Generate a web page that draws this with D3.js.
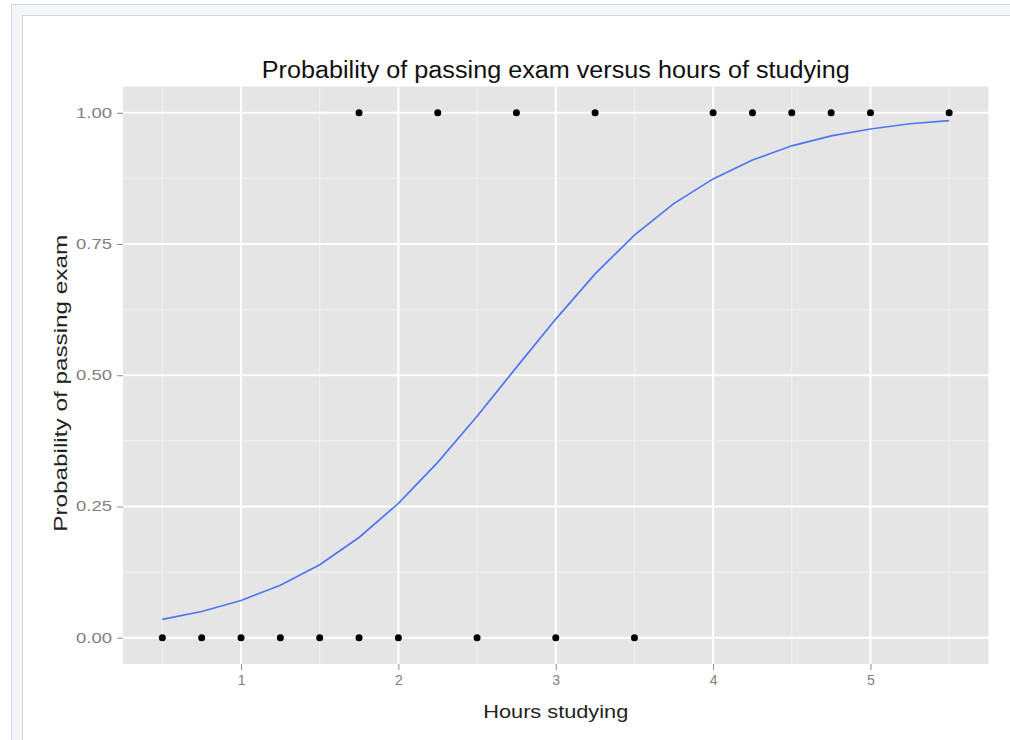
<!DOCTYPE html>
<html>
<head>
<meta charset="utf-8">
<script src="https://cdn.jsdelivr.net/npm/d3@7"></script>
<style>
  body { margin: 0; background: #fff; }
  svg { display: block; }
</style>
</head>
<body>
<script>
// exam data
const hours = [0.5, 0.75, 1, 1.25, 1.5, 1.75, 1.75, 2, 2.25, 2.5, 2.75, 3, 3.25, 3.5, 4, 4.25, 4.5, 4.75, 5, 5.5]
const passed = [0, 0, 0, 0, 0, 0, 1, 0, 1, 0, 1, 0, 1, 0, 1, 1, 1, 1, 1, 1]

// fitted curve
const curveX = [0.5, 0.75, 1, 1.25, 1.5, 1.75, 2, 2.25, 2.5, 2.75, 3, 3.25, 3.5, 3.75, 4, 4.25, 4.5, 4.75, 5, 5.25, 5.5]
const curveP = [0.035, 0.05, 0.071, 0.1, 0.139, 0.191, 0.256, 0.334, 0.422, 0.515, 0.607, 0.693, 0.767, 0.827, 0.874, 0.91, 0.937, 0.956, 0.969, 0.979, 0.985]

const xTicks = [1, 2, 3, 4, 5]
const xMinor = [0.5, 1.5, 2.5, 3.5, 4.5, 5.5]
const yTicks = [0, 0.25, 0.5, 0.75, 1]
const yMinor = [0.125, 0.375, 0.625, 0.875]
const yTickLabels = ["0.00", "0.25", "0.50", "0.75", "1.00"]

const width = 1010
const height = 740
const panel = {left: 123, right: 988.5, top: 86.5, bottom: 664}

const x = d3.scaleLinear().domain([0.25, 5.75]).range([panel.left, panel.right])
const y = d3.scaleLinear().domain([-0.05, 1.05]).range([panel.bottom, panel.top])

const svg = d3.select("body").append("svg").attr("width", width).attr("height", height)
  .style("font-family", "'Liberation Sans', Arial, sans-serif")

// screenshot frame
const frame = svg.append("g")
frame.append("rect").attr("x", 11).attr("y", 5).attr("width", width).attr("height", 11).attr("fill", "#f5f6f9")
frame.append("rect").attr("x", 11).attr("y", 5).attr("width", 11).attr("height", height).attr("fill", "#f5f6f9")
frame.append("path").attr("d", `M11.5,${height}V4.5H${width}`).attr("fill", "none").attr("stroke", "#d2d5dc")
frame.append("path").attr("d", `M22.5,${height}V15.5H${width}`).attr("fill", "none").attr("stroke", "#d2d5dc")

// panel
svg.append("rect")
  .attr("x", panel.left).attr("y", panel.top)
  .attr("width", panel.right - panel.left).attr("height", panel.bottom - panel.top)
  .attr("fill", "#e5e5e5")

const grid = svg.append("g")
grid.selectAll(".vminor").data(xMinor).join("line")
  .attr("x1", (d) => x(d)).attr("x2", (d) => x(d)).attr("y1", panel.top).attr("y2", panel.bottom)
  .attr("stroke", "#f2f2f2").attr("stroke-width", 1)
grid.selectAll(".hminor").data(yMinor).join("line")
  .attr("y1", (d) => y(d)).attr("y2", (d) => y(d)).attr("x1", panel.left).attr("x2", panel.right)
  .attr("stroke", "#f2f2f2").attr("stroke-width", 1)
grid.selectAll(".vmajor").data(xTicks).join("line")
  .attr("x1", (d) => x(d)).attr("x2", (d) => x(d)).attr("y1", panel.top).attr("y2", panel.bottom)
  .attr("stroke", "#fff").attr("stroke-width", 2)
grid.selectAll(".hmajor").data(yTicks).join("line")
  .attr("y1", (d) => y(d)).attr("y2", (d) => y(d)).attr("x1", panel.left).attr("x2", panel.right)
  .attr("stroke", "#fff").attr("stroke-width", 2)

// axes
const xAxis = svg.append("g").attr("transform", `translate(0,${panel.bottom})`)
  .call(d3.axisBottom(x).tickValues(xTicks).tickFormat(d3.format("d")).tickSize(6).tickPadding(5))
const yAxis = svg.append("g").attr("transform", `translate(${panel.left},0)`)
  .call(d3.axisLeft(y).tickValues(yTicks).tickFormat((d, i) => yTickLabels[i]).tickSize(6).tickPadding(5))

for (const ax of [xAxis, yAxis]) {
  ax.select(".domain").remove()
  ax.selectAll(".tick line").attr("stroke", "#8c8c8c")
  ax.selectAll(".tick text").attr("fill", "#808080").style("font-size", "14px")
    .style("font-family", "'Liberation Sans', Arial, sans-serif")
}
yAxis.selectAll(".tick text").attr("textLength", 36).attr("lengthAdjust", "spacingAndGlyphs")

// fitted line
svg.append("path")
  .datum(curveX.map((d, i) => [d, curveP[i]]))
  .attr("fill", "none")
  .attr("stroke", "#4f76f2")
  .attr("stroke-width", 1.7)
  .attr("d", d3.line().x((d) => x(d[0])).y((d) => y(d[1])))

// points
svg.append("g").selectAll("circle").data(hours).join("circle")
  .attr("cx", (d) => x(d))
  .attr("cy", (d, i) => y(passed[i]))
  .attr("r", 3.5)
  .attr("fill", "#000")

// titles
svg.append("text")
  .attr("x", (panel.left + panel.right) / 2).attr("y", 78)
  .attr("text-anchor", "middle").attr("fill", "#111")
  .style("font-size", "23px")
  .attr("textLength", 588).attr("lengthAdjust", "spacingAndGlyphs")
  .text("Probability of passing exam versus hours of studying")

svg.append("text")
  .attr("x", (panel.left + panel.right) / 2).attr("y", 718)
  .attr("text-anchor", "middle").attr("fill", "#222")
  .style("font-size", "19px")
  .attr("textLength", 145).attr("lengthAdjust", "spacingAndGlyphs")
  .text("Hours studying")

svg.append("text")
  .attr("transform", `translate(67,${(panel.top + panel.bottom) / 2 + 8}) rotate(-90)`)
  .attr("text-anchor", "middle").attr("fill", "#222")
  .style("font-size", "19px")
  .attr("textLength", 297).attr("lengthAdjust", "spacingAndGlyphs")
  .text("Probability of passing exam")
</script>
</body>
</html>
